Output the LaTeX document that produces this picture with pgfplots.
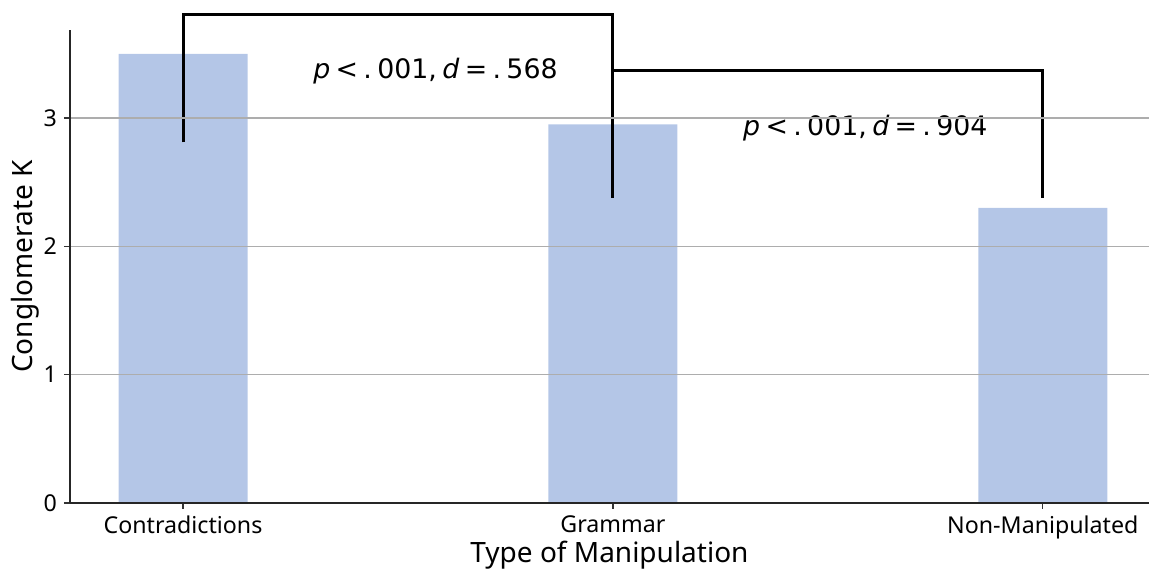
\documentclass[border=0pt]{standalone}
\usepackage{pgfplots}
\pgfplotsset{compat=1.18}
\usepackage{fontspec}
\setmainfont{Noto Sans}
\newfontfamily\statfont{DejaVu Sans}
\definecolor{barblue}{HTML}{B4C6E7}
\newcommand{\gap}{\hspace{0.2em}}
\begin{document}
\begin{tikzpicture}
\begin{axis}[
  name=ax,
  scale only axis, width=539.5pt, height=236.5pt,
  xmin=-0.263, xmax=2.247, ymin=0, ymax=3.686,
  axis x line*=bottom, axis y line*=left,
  axis on top,
  xtick={0,1,2}, xticklabels={Contradictions,Grammar,Non-Manipulated},
  ytick={0,1,2,3},
  ymajorgrids, grid style={color=black!32, line width=0.6pt},
  tick align=outside, major tick length=3pt,
  tick style={color=black!80, line width=0.6pt},
  axis line style={black!85, line width=0.7pt},
  ticklabel style={font=\fontsize{11.6}{13}\selectfont},
  /pgf/number format/assume math mode=true,
  label style={font=\fontsize{14}{16}\selectfont},
  xlabel={Type of Manipulation}, ylabel={Conglomerate K},
  xlabel style={at={(axis description cs:0.5,0)}, anchor=center, yshift=-26.3pt},
  ylabel style={at={(axis description cs:0,0.5)}, anchor=center, yshift=22.5pt},
  clip=false,
]
% mean conglomerate K per manipulation type
\addplot[ybar, bar width=0.3, fill=barblue, draw=none] coordinates {(0,3.5) (1,2.95) (2,2.3)};
% significance brackets
\addplot[black, line width=1.5pt] coordinates {(0,2.81) (0,3.81) (1,3.81) (1,2.377)};
\addplot[black, line width=1.5pt] coordinates {(1,3.367) (2,3.367) (2,2.377)};
\node[anchor=base west, inner sep=0pt, font=\statfont\fontsize{13.4}{16}\selectfont]
  at (axis cs:0.302,3.31) {{\itshape p}\gap<\gap.\gap001,\gap{\itshape d}\gap=\gap.\gap568};
\node[anchor=base west, inner sep=0pt, font=\statfont\fontsize{13.4}{16}\selectfont]
  at (axis cs:1.302,2.86) {{\itshape p}\gap<\gap.\gap001,\gap{\itshape d}\gap=\gap.\gap904};
\end{axis}
\pgfresetboundingbox
\useasboundingbox ([xshift=-35pt,yshift=-34pt]ax.south west) rectangle ([yshift=15pt]ax.north east);
\end{tikzpicture}
\end{document}
